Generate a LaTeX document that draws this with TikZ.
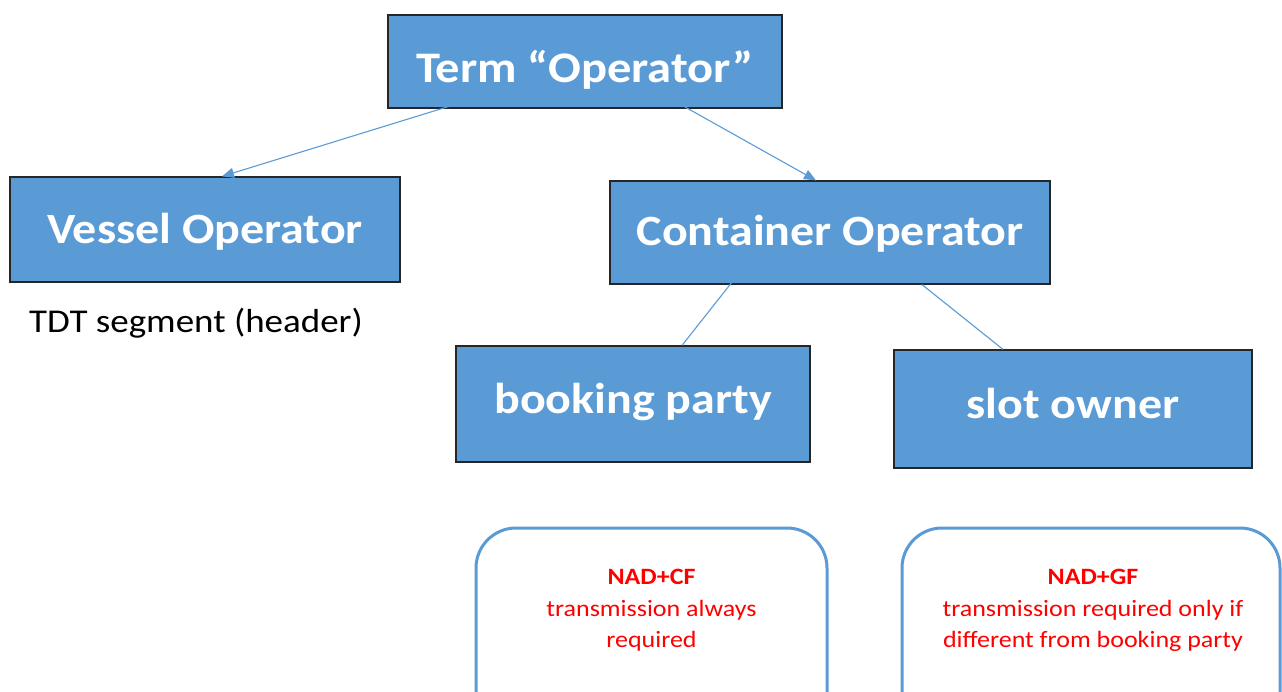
\documentclass[tikz,border=0pt]{standalone}
\usepackage{fontspec}
\setmainfont{Carlito}
\usetikzlibrary{arrows.meta,calc}
\definecolor{boxblue}{HTML}{5B9BD5}
\definecolor{linkblue}{HTML}{5B9BD5}
\definecolor{noteRed}{HTML}{FF0000}
\newcommand{\sq}[2]{\raisebox{-#1pt}[0pt][0pt]{\scalebox{1}[0.9]{#2}}}
\tikzset{
  bluebox/.style={draw=black!85, line width=1.2pt, fill=boxblue, text=white, font=\fontsize{48}{56}\selectfont\bfseries, inner sep=0pt, align=center},
  conn/.style={draw=linkblue, line width=1.1pt},
  arrowconn/.style={conn, -{Triangle[length=12pt,width=10pt]}},
  notebox/.style={draw=linkblue, line width=3pt, rounded corners=40pt, fill=white},
  notetext/.style={text=noteRed, font=\fontsize{26}{35}\selectfont, align=center, inner sep=0pt}
}
\begin{document}
\begin{tikzpicture}[x=1pt,y=-1pt]
\clip (0,0) rectangle (1282,691);
\fill[white] (0,0) rectangle (1282,691);
\node[bluebox, minimum width=394pt, minimum height=93pt, font=\fontsize{48.5}{56}\selectfont\bfseries] (top) at (585,61.5) {\sq{20.5}{Term “Operator”}};
\node[bluebox, minimum width=390pt, minimum height=105pt] (vessel) at (205,229.5) {\sq{13.5}{Vessel Operator}};
\node[bluebox, minimum width=440pt, minimum height=103pt] (container) at (830,232.5) {\sq{12.5}{Container Operator}};
\node[bluebox, minimum width=354pt, minimum height=116pt] (booking) at (633,404) {\sq{9}{booking party}};
\node[bluebox, minimum width=358pt, minimum height=118pt] (slot) at (1073,409) {\sq{9}{slot owner}};
\node[font=\fontsize{37}{42}\selectfont, anchor=base west, inner sep=0pt] (tdt) at (29,332) {\scalebox{1}[0.9]{TDT segment (header)}};
\node[notebox, minimum width=351pt, minimum height=220pt] (noteA) at (651.5,638) {};
\node[notebox, minimum width=378pt, minimum height=220pt] (noteB) at (1091,638) {};
\node[notetext] (noteAtext) at (651.5,610) {\scalebox{1}[0.9]{\begin{tabular}{@{}c@{}}\textbf{NAD+CF}\\transmission always\\required\end{tabular}}};
\node[notetext] (noteBtext) at (1093,610) {\scalebox{1}[0.9]{\begin{tabular}{@{}c@{}}\textbf{NAD+GF}\\transmission required only if\\different from booking party\end{tabular}}};
\draw[arrowconn] ([xshift=-127pt,yshift=5pt]top.south) -- ([xshift=17pt]vessel.north);
\draw[arrowconn] ([xshift=94pt,yshift=5pt]top.south) -- ([xshift=-14pt]container.north);
\draw[conn] ([xshift=-96pt,yshift=5pt]container.south) -- ([xshift=49pt]booking.north);
\draw[conn] ([xshift=92pt]container.south) -- ([xshift=-70pt]slot.north);
\end{tikzpicture}
\end{document}
